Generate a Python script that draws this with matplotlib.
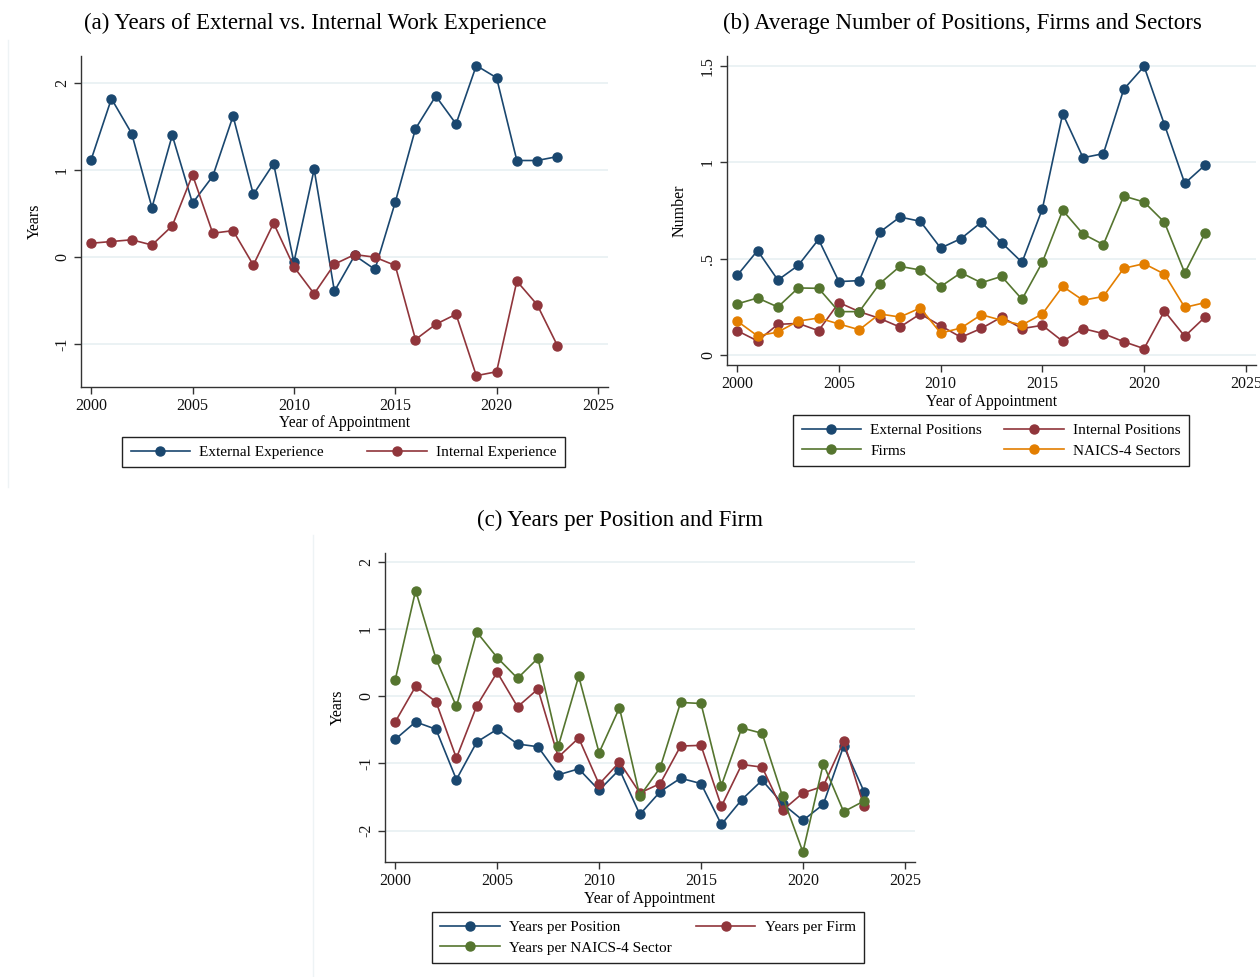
import matplotlib
matplotlib.use("Agg")
import matplotlib.pyplot as plt
from matplotlib.lines import Line2D

# ---------------------------------------------------------------------------
# Data
# ---------------------------------------------------------------------------
years = list(range(2000, 2024))

# (a) years of experience
external_exp = [1.12, 1.82, 1.42, 0.57, 1.40, 0.62, 0.93, 1.62, 0.72, 1.075,
                -0.06, 1.01, -0.39, 0.02, -0.14, 0.63, 1.475, 1.85, 1.53, 2.20,
                2.06, 1.11, 1.11, 1.155]
internal_exp = [0.16, 0.18, 0.20, 0.14, 0.36, 0.945, 0.275, 0.305, -0.09, 0.39,
                -0.11, -0.42, -0.08, 0.03, 0.0, -0.095, -0.945, -0.77, -0.655, -1.36,
                -1.315, -0.275, -0.545, -1.015]

# (b) average number of positions, firms, sectors
ext_positions = [0.413, 0.542, 0.389, 0.465, 0.600, 0.381, 0.386, 0.637, 0.716, 0.694,
                 0.555, 0.604, 0.689, 0.583, 0.481, 0.758, 1.253, 1.024, 1.045, 1.379,
                 1.498, 1.196, 0.891, 0.986]
int_positions = [0.126, 0.073, 0.159, 0.164, 0.126, 0.272, 0.225, 0.190, 0.145, 0.213,
                 0.152, 0.092, 0.138, 0.197, 0.137, 0.154, 0.071, 0.137, 0.111, 0.069,
                 0.033, 0.228, 0.097, 0.197]
firms = [0.265, 0.296, 0.249, 0.348, 0.346, 0.225, 0.225, 0.370, 0.460, 0.441,
         0.355, 0.427, 0.375, 0.408, 0.289, 0.481, 0.751, 0.628, 0.573, 0.825,
         0.794, 0.689, 0.426, 0.633]
naics_sectors = [0.176, 0.099, 0.119, 0.176, 0.192, 0.161, 0.131, 0.213, 0.197, 0.244,
                 0.114, 0.140, 0.209, 0.180, 0.156, 0.213, 0.356, 0.284, 0.304, 0.450,
                 0.474, 0.420, 0.247, 0.272]

# (c) years per position / firm / sector
yrs_per_position = [-0.64, -0.38, -0.49, -1.24, -0.68, -0.49, -0.71, -0.75, -1.17, -1.08,
                    -1.40, -1.09, -1.76, -1.42, -1.22, -1.30, -1.91, -1.54, -1.25, -1.60,
                    -1.85, -1.61, -0.74, -1.42]
yrs_per_firm = [-0.38, 0.15, -0.08, -0.92, -0.14, 0.36, -0.155, 0.11, -0.905, -0.62,
                -1.31, -0.98, -1.44, -1.30, -0.74, -0.73, -1.64, -1.015, -1.055, -1.70,
                -1.44, -1.34, -0.67, -1.64]
yrs_per_sector = [0.25, 1.58, 0.56, -0.15, 0.96, 0.58, 0.27, 0.57, -0.74, 0.30,
                  -0.84, -0.17, -1.49, -1.06, -0.09, -0.105, -1.33, -0.47, -0.55, -1.49,
                  -2.32, -1.005, -1.72, -1.56]

# Stata s2color-like palette
NAVY = "#1a476f"
MAROON = "#90353b"
GREEN = "#55752f"
ORANGE = "#e37e00"
GRID = "#e8f0f2"
AXIS = "#333333"

plt.rcParams["font.family"] = ["Liberation Serif", "DejaVu Serif"]

fig = plt.figure(figsize=(12.6, 9.77), dpi=100)

LEGEND_KW = dict(loc="upper left", mode="expand", ncol=2, borderaxespad=0,
                 fancybox=False, edgecolor="#222222", framealpha=1, fontsize=11,
                 handlelength=3.9, handletextpad=0.6, borderpad=0.55,
                 labelspacing=0.45, columnspacing=1.5)


def style_axes(ax, ylim, yticks, yticklabels, ylabel, label_x):
    ax.set_xlim(1999.5, 2025.5)
    ax.set_ylim(*ylim)
    ax.set_xticks(range(2000, 2026, 5))
    ax.set_yticks(yticks)
    ax.set_yticklabels(yticklabels, rotation=90, va="center")
    for side in ("top", "right"):
        ax.spines[side].set_visible(False)
    for side in ("left", "bottom"):
        ax.spines[side].set_color(AXIS)
        ax.spines[side].set_linewidth(1.0)
    ax.tick_params(direction="out", length=5, width=1.0, color=AXIS,
                   labelsize=11.5, labelcolor="#111111", pad=3)
    ax.grid(axis="y", color=GRID, linewidth=1.2)
    ax.set_axisbelow(True)
    ax.set_xlabel("Year of Appointment", fontsize=11.2, labelpad=1)
    ax.set_ylabel(ylabel, fontsize=11.5)
    ax.yaxis.set_label_coords(label_x, 0.5)


def draw(ax, y, color, label):
    return ax.plot(years, y, color=color, linewidth=1.2, marker="o",
                   markersize=6.5, label=label)[0]


# ---------------------------------------------------------------------------
# (a)
# ---------------------------------------------------------------------------
ax_a = fig.add_axes([0.0643, 0.6039, 0.4183, 0.3388])
draw(ax_a, external_exp, NAVY, "External Experience")
draw(ax_a, internal_exp, MAROON, "Internal Experience")
style_axes(ax_a, (-1.49, 2.31), [-1, 0, 1, 2], ["-1", "0", "1", "2"], "Years", -0.072)
ax_a.legend(bbox_to_anchor=(0.078, -0.151, 0.84, 0), **LEGEND_KW)

# ---------------------------------------------------------------------------
# (b)
# ---------------------------------------------------------------------------
ax_b = fig.add_axes([0.577, 0.6264, 0.4198, 0.3163])
h_ext = draw(ax_b, ext_positions, NAVY, "External Positions")
h_int = draw(ax_b, int_positions, MAROON, "Internal Positions")
h_firm = draw(ax_b, firms, GREEN, "Firms")
h_naics = draw(ax_b, naics_sectors, ORANGE, "NAICS-4 Sectors")
style_axes(ax_b, (-0.052, 1.552), [0, 0.5, 1, 1.5], ["0", ".5", "1", "1.5"], "Number",
           -0.074)
# legend fills columns first: order so rows read ext/int, firms/naics
ax_b.legend(handles=[h_ext, h_firm, h_int, h_naics],
            bbox_to_anchor=(0.125, -0.162, 0.748, 0), **LEGEND_KW)

# ---------------------------------------------------------------------------
# (c)
# ---------------------------------------------------------------------------
ax_c = fig.add_axes([0.3056, 0.1177, 0.4206, 0.3163])
h_pos = draw(ax_c, yrs_per_position, NAVY, "Years per Position")
h_frm = draw(ax_c, yrs_per_firm, MAROON, "Years per Firm")
h_sec = draw(ax_c, yrs_per_sector, GREEN, "Years per NAICS-4 Sector")
style_axes(ax_c, (-2.47, 2.14), [-2, -1, 0, 1, 2], ["-2", "-1", "0", "1", "2"], "Years",
           -0.074)
ax_c.legend(handles=[h_pos, h_sec, h_frm],
            bbox_to_anchor=(0.0887, -0.162, 0.815, 0), **LEGEND_KW)

# Titles
fig.text(0.2504, 0.9765, "(a) Years of External vs. Internal Work Experience",
         ha="center", va="center", fontsize=16.5)
fig.text(0.7635, 0.9765, "(b) Average Number of Positions, Firms and Sectors",
         ha="center", va="center", fontsize=16.5)
fig.text(0.4921, 0.4678, "(c) Years per Position and Firm",
         ha="center", va="center", fontsize=16.5)

# faint graph-region edges
fig.add_artist(Line2D([8 / 1260, 8 / 1260], [1 - 40 / 977, 1 - 487 / 977],
                      color="#eef3f5", linewidth=1))
fig.add_artist(Line2D([313 / 1260, 313 / 1260], [1 - 535 / 977, 0.0],
                      color="#eef3f5", linewidth=1))

fig.savefig("out.png", dpi=100)
